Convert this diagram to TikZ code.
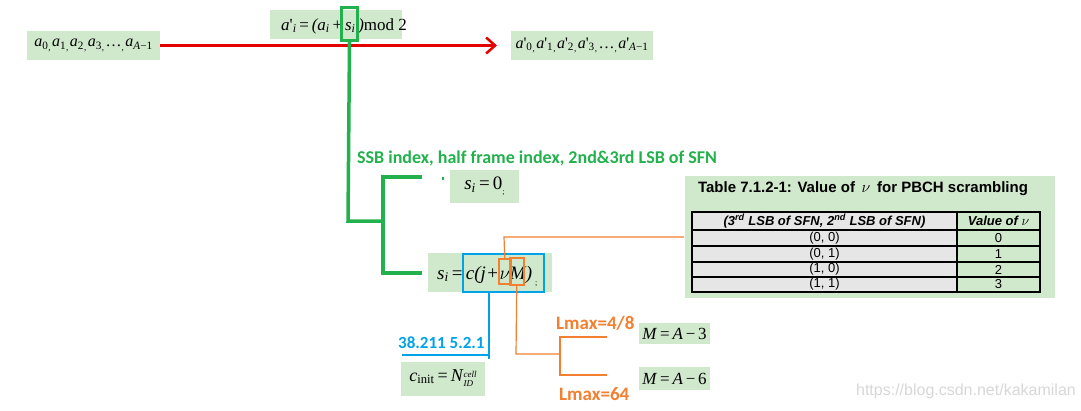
\documentclass[tikz,border=0pt]{standalone}
\usepackage{fix-cm}
\usepackage{fontspec}
\setmainfont{Liberation Serif}
\newfontfamily\calfont{Carlito}
\newfontfamily\arialfont{Liberation Sans}
\usetikzlibrary{arrows.meta}
\definecolor{boxgreen}{RGB}{208,232,204}
\definecolor{linegreen}{RGB}{34,177,76}
\definecolor{lineblue}{RGB}{0,162,232}
\definecolor{lineorange}{RGB}{242,128,48}
\definecolor{cellgray}{RGB}{230,230,230}
\definecolor{wmgray}{RGB}{215,215,215}
\newcommand{\sbs}[1]{\textsubscript{#1}}
\newcommand{\iv}[1]{\textit{#1}}
\newcommand{\pr}{\textquotesingle}
\newcommand{\smc}{\raisebox{-0.2em}{\fontsize{9}{9}\selectfont ,}\hspace{1.5pt}}
\tikzset{
  gbox/.style={fill=boxgreen, inner sep=0pt, anchor=center},
  ftext/.style={inner sep=0pt, anchor=base west},
  hlbox/.style={draw, fill=none, inner sep=0pt, anchor=north west},
  glabel/.style={anchor=west, inner sep=0pt, font=\calfont\bfseries\fontsize{17}{17}\selectfont},
  cell/.style={draw=black, line width=1.2pt},
  celltext/.style={inner sep=0pt, anchor=center, font=\arialfont\fontsize{13}{13}\selectfont}
}
\begin{document}
\begin{tikzpicture}[x=1pt,y=-1pt]
\useasboundingbox (0,0) rectangle (1081,410);
% top row
\node[gbox, minimum width=133pt, minimum height=29pt, font=\fontsize{16}{16}\selectfont] (in) at (93.5,45.5) {\iv{a}\sbs{0}\smc\iv{a}\sbs{1}\smc\iv{a}\sbs{2}\smc\iv{a}\sbs{3}\smc\ldots\smc\iv{a}\sbs{\iv{A}−1}};
\node[gbox, minimum width=132pt, minimum height=29pt] (eq) at (336,24.5) {};
\node[ftext, font=\fontsize{17}{17}\selectfont] (eqtext) at (281,30) {\iv{a}\pr\sbs{\iv{i}}\,=\,\iv{(a}\sbs{\iv{i}}\,+\,\iv{s}\sbs{\iv{i}}\,\iv{)}mod 2};
\node[gbox, minimum width=142pt, minimum height=29pt, font=\fontsize{16}{16}\selectfont] (out) at (582,45.5) {\iv{a}\pr\sbs{0}\smc\iv{a}\pr\sbs{1}\smc\iv{a}\pr\sbs{2}\smc\iv{a}\pr\sbs{3}\smc\ldots\smc\iv{a}\pr\sbs{\iv{A}−1}};
\coordinate (arrend) at (497,45.5);
\draw[red!90!black, line width=3pt, -{Straight Barb[length=9pt,width=16pt,line width=2.5pt]}] (in.east) -- (arrend);
% green highlight on s_i
\node[hlbox, draw=linegreen, line width=3pt, minimum width=16pt, minimum height=33pt] (shl) at (340,6) {};
\coordinate (gcorner) at (348,221);
\coordinate (gbar) at (383,221);
\coordinate (gtopL) at (383,177);
\coordinate (gtopR) at (422,177);
\coordinate (gbotL) at (383,273);
\coordinate (gbotR) at (422,273);
\draw[linegreen, line width=3.5pt] (shl.south) -- (gcorner) -- (gbar);
\draw[linegreen, line width=3.5pt] (gtopR) -- (gtopL) -- (gbotL) -- (gbotR);
\node[glabel, text=linegreen, font=\calfont\bfseries\fontsize{18}{18}\selectfont] (ssb) at (357,158) {SSB index, half frame index, 2nd\&3rd LSB of SFN};
% s_i = 0
\node[gbox, minimum width=69pt, minimum height=33pt, font=\fontsize{19}{19}\selectfont] (s0) at (484.5,186.5) {\iv{s}\sbs{\iv{i}}\,=\,0\raisebox{-5pt}{\fontsize{8}{8}\selectfont ;}};
\fill[linegreen] (442,177) rectangle (444,180);
% s_i = c(j+vM)
\node[gbox, minimum width=124pt, minimum height=39pt] (sc) at (490,272.5) {};
\node[ftext, font=\fontsize{19}{19}\selectfont] (sctext) at (437,279) {\iv{s}\sbs{\iv{i}}\,=\,\iv{c(j}\hspace{1.5pt}+\hspace{1.5pt}{\normalfont$\nu$}\iv{M)}\hspace{3pt}\raisebox{-6pt}{\fontsize{8}{8}\selectfont ;}};
\node[hlbox, draw=lineblue, line width=1.5pt, minimum width=81pt, minimum height=38pt] (cbox) at (462,253) {};
\node[hlbox, draw=lineorange, line width=1.5pt, minimum width=12pt, minimum height=25pt] (vbox) at (498,258) {};
\node[hlbox, draw=lineorange, line width=1.5pt, minimum width=14pt, minimum height=27pt] (mbox) at (509,257) {};
% table
\node[gbox, minimum width=370pt, minimum height=122pt] (tbl) at (870,237) {};
\node[inner sep=0pt, anchor=center, font=\arialfont\bfseries\fontsize{15}{15}\selectfont] (ttitle) at (863,189) {Table 7.1.2-1: Value of \,{\normalfont\rmfamily\fontsize{16}{16}\selectfont $\nu$}\, for PBCH scrambling};
\fill[cellgray] (692,212) rectangle (957,292);
\foreach \ya/\yb in {212/230,230/246,246/262,262/277,277/292}{
  \draw[cell] (692,\ya) rectangle (957,\yb);
  \draw[cell] (957,\ya) rectangle (1040,\yb);
}
\node[celltext, font=\arialfont\bfseries\itshape\fontsize{13}{13}\selectfont] (h1) at (824.5,221) {(3\textsuperscript{rd} LSB of SFN, 2\textsuperscript{nd} LSB of SFN)};
\node[celltext, font=\arialfont\bfseries\itshape\fontsize{13}{13}\selectfont] (h2) at (998.5,221) {Value of {\normalfont\rmfamily\fontsize{14}{14}\selectfont $\nu$}};
\node[celltext] (r1a) at (824.5,238) {(0, 0)};
\node[celltext] (r1b) at (998.5,238) {0};
\node[celltext] (r2a) at (824.5,254) {(0, 1)};
\node[celltext] (r2b) at (998.5,254) {1};
\node[celltext] (r3a) at (824.5,269.5) {(1, 0)};
\node[celltext] (r3b) at (998.5,269.5) {2};
\node[celltext] (r4a) at (824.5,284.5) {(1, 1)};
\node[celltext] (r4b) at (998.5,284.5) {3};
% orange connector to table
\coordinate (ovup) at (504,237);
\coordinate (otbl) at (684,237);
\draw[lineorange, line width=1.2pt] (vbox.north) -- (ovup) -- (otbl);
% orange connector down to M cases
\coordinate (omd) at (516,354);
\coordinate (obr) at (560,354);
\coordinate (obt) at (560,336);
\coordinate (obb) at (560,376);
\coordinate (obtR) at (607,337);
\coordinate (obbR) at (607,375);
\draw[lineorange, line width=1.2pt] (mbox.south) -- (omd) -- (obr);
\draw[lineorange, line width=1.2pt] (obt) -- (obb);
\draw[lineorange, line width=1.2pt] (560,337) -- (obtR);
\draw[lineorange, line width=1.2pt] (560,375) -- (obbR);
\node[glabel, text=lineorange, font=\calfont\bfseries\fontsize{19}{19}\selectfont] (lm48) at (556,323) {Lmax=4/8};
\node[glabel, text=lineorange, font=\calfont\bfseries\fontsize{19}{19}\selectfont] (lm64) at (559,394) {Lmax=64};
\node[gbox, minimum width=71pt, minimum height=21pt, font=\fontsize{17}{17}\selectfont] (m3) at (674.5,333.5) {\iv{M}\,=\,\iv{A}\,−\,3};
\node[gbox, minimum width=71pt, minimum height=23pt, font=\fontsize{17}{17}\selectfont] (m6) at (674.5,378.5) {\iv{M}\,=\,\iv{A}\,−\,6};
% blue connector
\coordinate (bdown) at (489,359);
\coordinate (bcorn) at (489,355);
\coordinate (bleft) at (402,355);
\draw[lineblue, line width=1.2pt] (cbox.south -| bdown) -- (bdown);
\draw[lineblue, line width=1.2pt] (bcorn) -- (bleft);
\node[glabel, text=lineblue] (spec) at (398,343) {38.211 5.2.1};
\node[gbox, minimum width=84pt, minimum height=34pt, font=\fontsize{18}{18}\selectfont] (cinit) at (443,379) {\iv{c}\sbs{init}\,=\,\iv{N}\raisebox{-0.05em}{\fontsize{9}{9}\selectfont\itshape\begin{tabular}[c]{@{}l@{}}cell\\[0pt]ID\end{tabular}}};
% watermark
\node[anchor=east, inner sep=0pt, text=wmgray, font=\arialfont\fontsize{16}{16}\selectfont] (wm) at (1076,391) {https://blog.csdn.net/kakamilan};
\end{tikzpicture}
\end{document}
